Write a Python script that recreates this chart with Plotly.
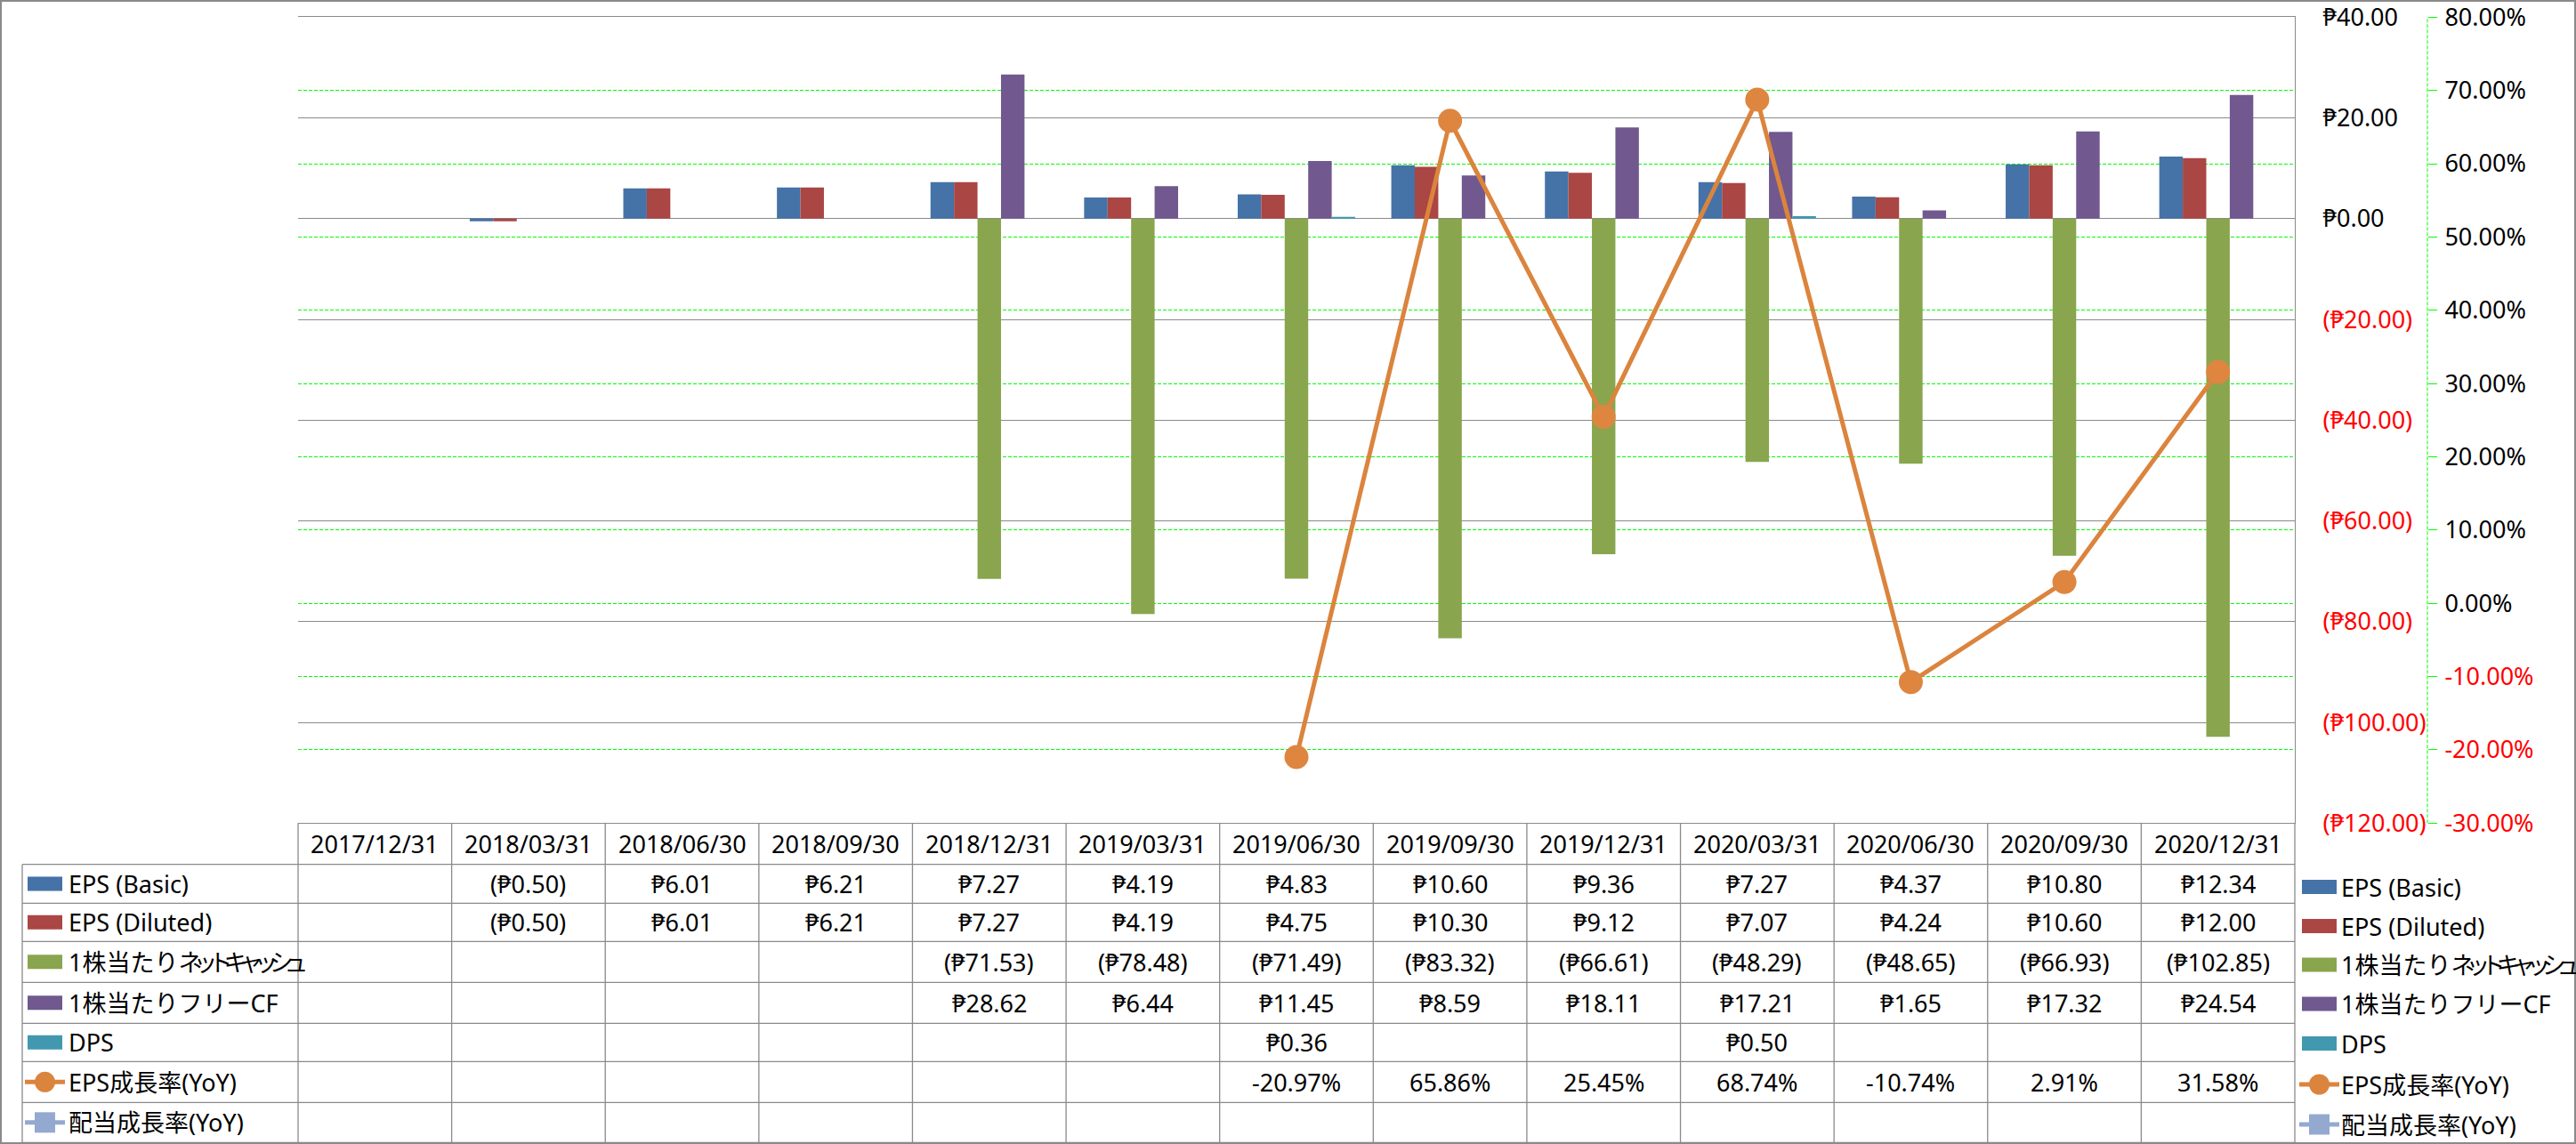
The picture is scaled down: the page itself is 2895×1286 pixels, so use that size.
import plotly.graph_objects as go

# ---------------- data ----------------
dates = ["2017/12/31", "2018/03/31", "2018/06/30", "2018/09/30", "2018/12/31",
         "2019/03/31", "2019/06/30", "2019/09/30", "2019/12/31", "2020/03/31",
         "2020/06/30", "2020/09/30", "2020/12/31"]
eps_basic = [None, -0.50, 6.01, 6.21, 7.27, 4.19, 4.83, 10.60, 9.36, 7.27, 4.37, 10.80, 12.34]
eps_diluted = [None, -0.50, 6.01, 6.21, 7.27, 4.19, 4.75, 10.30, 9.12, 7.07, 4.24, 10.60, 12.00]
net_cash = [None, None, None, None, -71.53, -78.48, -71.49, -83.32, -66.61, -48.29, -48.65, -66.93, -102.85]
free_cf = [None, None, None, None, 28.62, 6.44, 11.45, 8.59, 18.11, 17.21, 1.65, 17.32, 24.54]
dps = [None, None, None, None, None, None, 0.36, None, None, 0.50, None, None, None]
eps_growth = [None, None, None, None, None, None, -20.97, 65.86, 25.45, 68.74, -10.74, 2.91, 31.58]
div_growth = [None] * 13

series_names = ["EPS (Basic)", "EPS (Diluted)", "1株当たりネットキャッシュ", "1株当たりフリーCF",
                "DPS", "EPS成長率(YoY)", "配当成長率(YoY)"]
y1_ticks = [-120, -100, -80, -60, -40, -20, 0, 20, 40]
y2_ticks = [-30, -20, -10, 0, 10, 20, 30, 40, 50, 60, 70, 80]

# ---------------- style ----------------
colors = ["#4572A7", "#AA4643", "#89A54E", "#71588F", "#4198AF", "#DB843D", "#93A9CF"]
GRAY = "#8A8A8A"
GREEN = "#00FF00"
FONT = "Noto Sans, Noto Sans CJK JP, DejaVu Sans, sans-serif"
FS = 27

W, H = 2895, 1286
plot_l, plot_r, plot_t, plot_b = 335, 2579, 19.3, 925.3
y2_axis_x = 2728
table_left = 25
row_lines = [971.7, 1015.3, 1058.3, 1104.3, 1150.3, 1193.3, 1239.3, 1284.3]
header_center = 948.5


def px(x):
    return x / W


def py(y):
    return 1 - y / H


def money(v):
    if v is None:
        return ""
    return "(₱%.2f)" % abs(v) if v < 0 else "₱%.2f" % v


def pct(v):
    if v is None:
        return ""
    return "%.2f%%" % v


def red(s):
    return "<span style='color:#FF0000'>%s</span>" % s


def label_html(name):
    if "ネットキャッシュ" in name:
        return name.replace("ネットキャッシュ",
                            "<span style='letter-spacing:-10px'>ネットキャッシュ</span>")
    return name


fig = go.Figure()

bar_series = [eps_basic, eps_diluted, net_cash, free_cf, dps]
for name, vals, col in zip(series_names[:5], bar_series, colors[:5]):
    fig.add_trace(go.Bar(x=dates, y=vals, name=name, yaxis="y",
                         marker=dict(color=col, line=dict(width=0))))

fig.add_trace(go.Scatter(x=dates, y=eps_growth, name=series_names[5], yaxis="y2",
                         mode="lines+markers", line=dict(color=colors[5], width=5),
                         marker=dict(size=27, color="#DE8640", line=dict(width=0))))
fig.add_trace(go.Scatter(x=dates, y=div_growth, name=series_names[6], yaxis="y2",
                         mode="lines+markers", line=dict(color=colors[6], width=5),
                         marker=dict(size=22, symbol="square", color=colors[6])))

y1_text = [money(v) if v >= 0 else red(money(v)) for v in y1_ticks]
y2_text = [pct(v) if v >= 0 else red(pct(v)) for v in y2_ticks]

fig.update_layout(
    width=W, height=H, autosize=False,
    margin=dict(l=0, r=0, t=0, b=0),
    paper_bgcolor="white", plot_bgcolor="white",
    showlegend=False,
    barmode="group", bargap=0.235, bargroupgap=0,
    font=dict(family=FONT, size=FS, color="black"),
    xaxis=dict(domain=[px(plot_l), px(plot_r)], type="category", range=[-0.5, 12.5],
               showticklabels=False, ticks="", showgrid=False, zeroline=False,
               showline=True, mirror=True, linecolor=GRAY, linewidth=1.3,
               automargin=False),
    yaxis=dict(domain=[py(plot_b), py(plot_t)], range=[-120, 40], side="right",
               tickmode="array", tickvals=y1_ticks, ticktext=y1_text,
               tickfont=dict(family=FONT, size=FS, color="black"),
               showgrid=True, gridcolor=GRAY, gridwidth=1.3, zeroline=False,
               showline=True, linecolor=GRAY, linewidth=1.3, ticks="",
               ticklabelstandoff=25, ticklabeloverflow="allow", automargin=False),
    yaxis2=dict(overlaying="y", anchor="free", position=px(y2_axis_x), side="right",
                range=[-30, 80], tickmode="array", tickvals=y2_ticks, ticktext=y2_text,
                tickfont=dict(family=FONT, size=FS, color="black"),
                showgrid=True, gridcolor=GREEN, gridwidth=1, griddash="4px,2px",
                zeroline=False, showline=False, ticks="outside", ticklen=10,
                tickcolor=GREEN, tickwidth=1, ticklabelstandoff=3,
                ticklabeloverflow="allow", automargin=False),
)

shapes = []
annotations = []

# outer border
shapes.append(dict(type="rect", xref="paper", yref="paper", x0=0, x1=1, y0=0, y1=1,
                   line=dict(color=GRAY, width=4), layer="above"))
# secondary axis line (dashed green)
shapes.append(dict(type="line", xref="paper", yref="paper", x0=px(y2_axis_x), x1=px(y2_axis_x),
                   y0=py(plot_b), y1=py(plot_t), line=dict(color=GREEN, width=1, dash="4px,2px")))

# data table grid
ncat = len(dates)
cat_w = (plot_r - plot_l) / ncat
line_style = dict(color=GRAY, width=1.3)
for yl in row_lines:
    shapes.append(dict(type="line", xref="paper", yref="paper", x0=px(table_left), x1=px(plot_r),
                       y0=py(yl), y1=py(yl), line=line_style))
shapes.append(dict(type="line", xref="paper", yref="paper", x0=px(table_left), x1=px(table_left),
                   y0=py(row_lines[0]), y1=py(row_lines[-1]), line=line_style))
for k in range(ncat + 1):
    xk = plot_l + k * cat_w
    shapes.append(dict(type="line", xref="paper", yref="paper", x0=px(xk), x1=px(xk),
                       y0=py(plot_b), y1=py(row_lines[-1]), line=line_style))

# header labels
for d in dates:
    annotations.append(dict(x=d, xref="x", y=py(header_center), yref="paper", text=d,
                            showarrow=False, xanchor="center", yanchor="middle",
                            font=dict(family=FONT, size=FS, color="black")))

# table rows
row_values = [
    [money(v) for v in eps_basic],
    [money(v) for v in eps_diluted],
    [money(v) for v in net_cash],
    [money(v) for v in free_cf],
    [money(v) for v in dps],
    [pct(v) for v in eps_growth],
    [pct(v) for v in div_growth],
]
row_centers = [(row_lines[i] + row_lines[i + 1]) / 2 for i in range(7)]
for r, vals in enumerate(row_values):
    for d, t in zip(dates, vals):
        if t:
            annotations.append(dict(x=d, xref="x", y=py(row_centers[r]), yref="paper", text=t,
                                    showarrow=False, xanchor="center", yanchor="middle",
                                    font=dict(family=FONT, size=FS, color="black")))


def legend_key(kind, cx_left, cy, col):
    out = []
    if kind == "bar":
        out.append(dict(type="rect", xref="paper", yref="paper", x0=px(cx_left), x1=px(cx_left + 39),
                        y0=py(cy + 8), y1=py(cy - 8), fillcolor=col, line=dict(width=0)))
    else:
        mid = cx_left + 19.5
        out.append(dict(type="line", xref="paper", yref="paper", x0=px(cx_left - 3), x1=px(cx_left + 42),
                        y0=py(cy), y1=py(cy), line=dict(color=col, width=5)))
        shape_type = "circle" if kind == "circle" else "rect"
        out.append(dict(type=shape_type, xref="paper", yref="paper", x0=px(mid - 11.5), x1=px(mid + 11.5),
                        y0=py(cy + 11.5), y1=py(cy - 11.5), fillcolor=col, line=dict(width=0)))
    return out


kinds = ["bar", "bar", "bar", "bar", "bar", "circle", "square"]

# left legend inside table
for i, name in enumerate(series_names):
    cy = row_centers[i]
    shapes.extend(legend_key(kinds[i], 31, cy, colors[i]))
    annotations.append(dict(x=px(75), xref="paper", y=py(cy), yref="paper", text=label_html(name),
                            showarrow=False, xanchor="left", yanchor="middle",
                            font=dict(family=FONT, size=FS, color="black")))

# right legend
right_centers = [997, 1041, 1084.5, 1128.5, 1173, 1219, 1264]
for i, name in enumerate(series_names):
    cy = right_centers[i]
    shapes.extend(legend_key(kinds[i], 2587, cy, colors[i]))
    annotations.append(dict(x=px(2629), xref="paper", y=py(cy), yref="paper", text=label_html(name),
                            showarrow=False, xanchor="left", yanchor="middle",
                            font=dict(family=FONT, size=FS, color="black")))

fig.update_layout(shapes=shapes, annotations=annotations)
fig.write_html("out.html", config={"displayModeBar": False},
               post_script="document.body.style.margin='0';document.body.style.overflow='hidden';")
